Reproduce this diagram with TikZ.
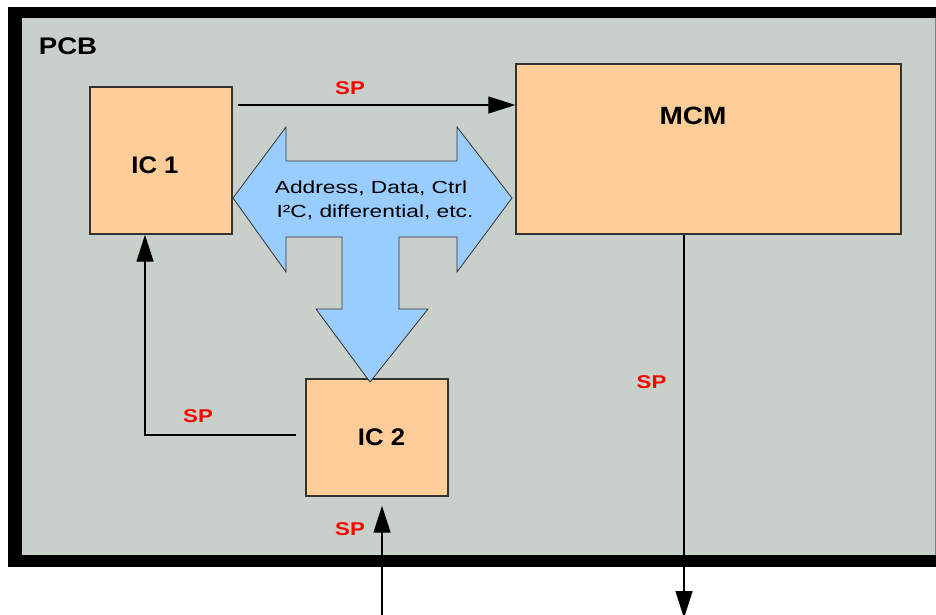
\documentclass[tikz,border=0pt]{standalone}
\usepackage{graphicx}
\usepackage{fontspec}
\setmainfont{Liberation Sans}
\usetikzlibrary{arrows.meta}
\definecolor{pcbgray}{HTML}{C9D0C9}
\definecolor{chip}{HTML}{FECD98}
\definecolor{busblue}{HTML}{99CCFF}
\definecolor{edge}{HTML}{333333}
\newcommand\wb[2][1.15]{\scalebox{#1}[1]{#2}}
\tikzset{
  chipbox/.style={draw=edge, line width=1.4pt, fill=chip, inner sep=0pt},
  bold label/.style={anchor=base, inner sep=0pt, font=\fontsize{24}{24}\selectfont\bfseries},
  sp label/.style={anchor=base, inner sep=0pt, text=red, font=\fontsize{18.5}{18.5}\selectfont\bfseries},
  bus text/.style={anchor=base, inner sep=0pt, font=\fontsize{17.5}{17.5}\selectfont},
  sig/.style={line width=1.3pt, -{Triangle[length=27pt,width=17pt]}},
}
\begin{document}
\begin{tikzpicture}[x=1pt,y=-1pt]
\useasboundingbox (0,0) rectangle (936,614);
% PCB frame
\fill[black] (7.5,7) rectangle (945,567);
\fill[pcbgray] (21.5,18) rectangle (945,555);
\draw[gray, line width=0.8pt] (935.5,18) -- (935.5,555);
\node[bold label] (pcb) at (68,54) {\wb[1.15]{PCB}};
% chips
\node[chipbox, minimum width=142pt, minimum height=147pt] (ic1) at (161,160.5) {};
\node[chipbox, minimum width=385pt, minimum height=170pt] (mcm) at (708.5,149) {};
\node[chipbox, minimum width=142pt, minimum height=117pt] (ic2) at (377,437.5) {};
\node[bold label] (ic1t) at (155,173) {\wb[1.07]{IC 1}};
\node[bold label, font=\fontsize{25}{25}\selectfont\bfseries] (mcmt) at (693,124) {\wb[1.12]{MCM}};
\node[bold label] (ic2t) at (381.5,445) {\wb[1.07]{IC 2}};
% bus arrow
\draw[fill=busblue, draw=edge, line width=0.8pt]
  (233,198) -- (286,127) -- (286,161) -- (457,161) -- (457,127) -- (512,198)
  -- (457,272) -- (457,237) -- (399,237) -- (399,309) -- (428,309) -- (370,382)
  -- (316,309) -- (342,309) -- (342,237) -- (286,237) -- (286,272) -- cycle;
\node[bus text] (bus1) at (371,193) {\wb[1.3]{Address, Data, Ctrl}};
\node[bus text] (bus2) at (375,217) {\wb[1.3]{I²C, differential, etc.}};
% connectors
\draw[sig, shorten <=5pt] (ic1.east |- 0,105) -- (mcm.west |- 0,105);
\node[sp label] (sp1) at (350,94) {\wb[1.2]{SP}};
\draw[sig, shorten <=9pt] (ic2.west |- 0,435) -- (145,435) -- (ic1.south -| 145,0);
\node[sp label] (sp2) at (198,422) {\wb[1.2]{SP}};
\coordinate (in) at (382,620);
\draw[sig, shorten >=9pt] (in) -- (ic2.south -| in);
\node[sp label] (sp3) at (350,535) {\wb[1.2]{SP}};
\coordinate (out) at (684,618);
\draw[sig] (mcm.south -| out) -- (out);
\node[sp label] (sp4) at (651.5,388) {\wb[1.2]{SP}};
\end{tikzpicture}
\end{document}
